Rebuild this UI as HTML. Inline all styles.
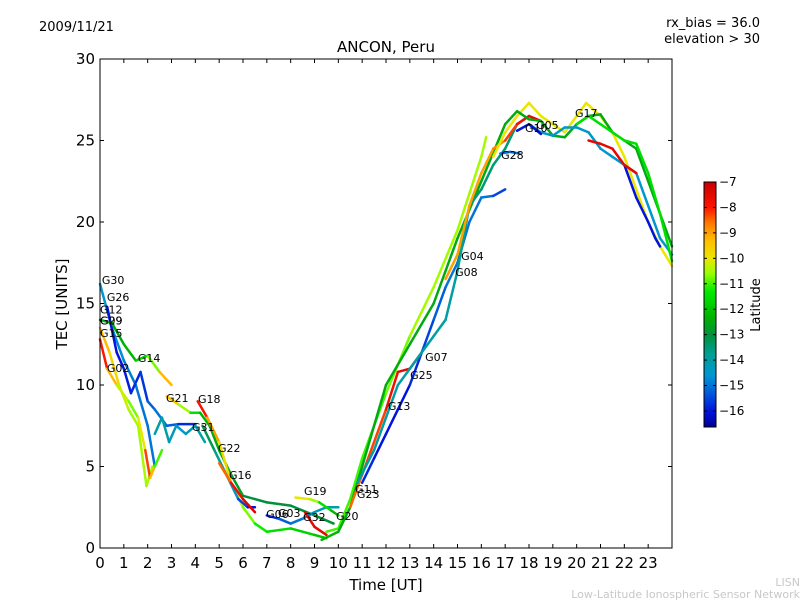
<!DOCTYPE html>
<html><head><meta charset="utf-8"><style>
body{margin:0;background:#fff;}
svg{display:block;font-family:"DejaVu Sans","Liberation Sans",sans-serif;}
</style></head><body>
<svg id="chart" width="800" height="600" viewBox="0 0 800 600">
<defs><linearGradient id="jet" x1="0" y1="1" x2="0" y2="0"></linearGradient></defs>
<text x="39" y="31" font-size="13">2009/11/21</text>
<text x="760" y="27" font-size="13" text-anchor="end">rx_bias = 36.0</text>
<text x="760" y="43" font-size="13" text-anchor="end">elevation &gt; 30</text>
<text x="386" y="52" font-size="15" text-anchor="middle">ANCON, Peru</text>
<text x="386" y="590" font-size="15" text-anchor="middle">Time [UT]</text>
<text x="67" y="304" font-size="15" text-anchor="middle" transform="rotate(-90 67 304)">TEC [UNITS]</text>
<text x="800" y="586" font-size="11" fill="#c8c8c8" text-anchor="end">LISN</text>
<text x="800" y="598" font-size="11" fill="#c8c8c8" text-anchor="end">Low-Latitude Ionospheric Sensor Network</text>
<g id="tracks"></g>
<g id="labels"></g>
<rect x="100" y="59" width="572" height="489" fill="none" stroke="#000" stroke-width="1"/>
<g id="axes"></g>
<rect x="704" y="182" width="12" height="245" fill="url(#jet)" stroke="#000" stroke-width="1"/>
<g id="cbticks"></g>
<text x="760" y="305" font-size="13" text-anchor="middle" transform="rotate(-90 760 305)">Latitude</text>
</svg>
<script>
const xTicks=[0,1,2,3,4,5,6,7,8,9,10,11,12,13,14,15,16,17,18,19,20,21,22,23];
const yTicks=[0,5,10,15,20,25,30];
const cbTicks=[-7,-8,-9,-10,-11,-12,-13,-14,-15,-16];
const trackT=[
[0,0.5,1,1.5,2,2.3],
[0.3,0.7,1.0,1.3,1.7,2.0,2.3,2.8,3.3,4.0],
[0,0.5,1,1.5,2,2.5,3],
[0,0.4,0.8,1.2,1.6,1.95,2.2],
[0,0.3,0.7,1.2,1.6,1.9,2.1,2.3,2.6],
[2.3,2.6,2.9,3.2,3.6,4.0,4.4],
[2.8,3.3,3.8,4.2,4.6,5,5.5,6,6.5,7,8,9,9.8],
[4.1,4.5,5,5.5,6,6.5,7,8,9,9.5],
[4.3,4.8,5.3,5.8,6.2,6.5],
[5,5.5,6,6.5],
[7,7.5,8,8.5,9,9.5,10],
[8.2,8.8,9.2,9.7,10],
[8.6,9,9.5],
[9.5,10,10.5,11,12,13,14,15,16,16.2],
[9.3,10,10.5,11,12,13,14,15,16,17,17.5],
[10.5,11,12,12.5,13,13.5],
[11,11.5,12,12.5,13,13.5,14,14.5,15,15.5,16,16.5,17],
[10.8,11.5,12,12.5,13,14,14.5,15,15.5,16,16.5,17,17.5,18],
[14.5,15,15.5,16,16.5,17,17.5,18,18.5],
[16.5,17,17.5,18,18.5,19,19.5,20,20.4,21,21.5,22,22.5,23,23.5,24],
[17.5,18,18.5,19,19.5,20,20.5,21,21.5,22,22.5,23,23.5,24],
[18,18.5,19,19.5,20,20.5,21,21.5,22,22.5,23,23.5,24],
[22,22.5,23,23.3,23.5],
[16.8,17.2,17.6],
[20,20.5,21,21.5,22,22.5,23,23.5,24],
[20.5,21,21.5,22,22.5],
[17.5,18,18.5]];
const trackV=[
[16.2,13.5,11.5,10,7.5,5],
[14.8,12,11,9.5,10.8,9,8.5,7.5,7.6,7.6],
[14,13.8,12.5,11.5,11.8,10.8,10],
[13.5,12,10,8.5,7.5,3.8,5],
[12.8,11,10,9,8,6,4.3,5,6],
[7,8,6.5,7.5,7,7.5,6.5],
[9.3,8.8,8.3,8.3,7.5,6,4.5,3.2,3,2.8,2.6,2,1.5],
[9,8,6.5,4,2.5,1.5,1,1.2,0.8,0.6],
[7.5,6,4.5,3,2.5,2.5],
[5.2,4,3,2.2],
[2,1.8,1.5,1.8,2.2,2.5,2.5],
[3.1,3.0,2.8,2.3,2],
[2.2,1.3,0.8],
[1,1.2,3,5.5,9.5,13,16,19.5,24,25.2],
[0.5,1,2.5,5,10,12.5,15,19,22.5,26,26.8],
[2.5,4.5,8.5,10.8,11,12],
[4,5.5,7,8.5,10,12,14,16,17.5,20,21.5,21.6,22],
[4,6,8,10,11,13,14,17,21,22,23.5,24.5,26,26.5],
[16.5,18,21,23,24.5,25,26,26.5,26.2],
[24,25.5,26.5,27.3,26.5,26,25.5,26.5,27.3,26.5,25.5,24,22,20,18.5,17.3],
[26.8,26.3,26.2,25.3,25.2,26,26.5,26.6,25.5,25,24.5,22.5,20.5,18.5],
[26,25.5,25.3,25.8,25.8,25.5,24.5,24,23.5,23,21,19,18],
[23.5,21.5,20,19,18.5],
[24.2,24.3,24.2],
[26,26.5,26,25.5,25,24.8,23,20.5,17.6],
[25,24.8,24.5,23.5,23],
[25.6,26,25.4]];
const trackLat=[
[-14.5,-14.6,-14.8,-15,-15,-15],
[-16,-16,-16,-15.8,-15.8,-15.5,-15,-15,-15.5,-16],
[-12.5,-12.5,-12.5,-12,-11.5,-10,-8.5],
[-9,-9.5,-10,-10.5,-10.5,-10.5,-10.5],
[-7.5,-8.5,-10,-10.5,-11,-9,-7.5,-11,-11],
[-14,-14,-14,-14.5,-14.5,-14,-14],
[-9,-10,-11,-12,-12.5,-12.5,-12.5,-13,-13,-13,-13,-13,-13],
[-7.3,-8.5,-9.5,-10,-10.5,-11,-11.5,-11.5,-12,-12],
[-13,-13.5,-14,-15,-16,-16],
[-9,-8,-7.5,-7.2],
[-16,-15.5,-15,-15,-14.5,-14,-14],
[-10,-10,-11,-12,-12.5],
[-7.5,-7.5,-7.5],
[-11,-11,-11,-11,-11,-10.5,-10.5,-10.5,-10.5,-10.5],
[-12,-12.5,-12.5,-12.5,-12.5,-12.5,-12.5,-12.5,-12.5,-12.5,-12.5],
[-8.5,-8.5,-8,-7.5,-7.5,-7.5],
[-15.5,-16,-16,-16,-16,-15.5,-15.5,-15,-15,-15,-15,-15,-16],
[-14,-14,-14,-14,-14,-14,-14,-14,-13.5,-13.5,-13.5,-13.5,-13.5,-13.5],
[-9,-9,-9,-9,-9,-8.5,-8,-7.5,-7.5],
[-10,-10,-10,-10,-10,-10,-10,-10,-10,-10,-10,-10,-10,-10,-10,-10],
[-12.5,-12.5,-12.5,-12.5,-12.5,-12.5,-12.5,-12.5,-12.5,-12.5,-12.5,-12.5,-12.5,-12.5],
[-14.5,-14.5,-14.5,-14.5,-14.5,-14.5,-14.5,-14.5,-14.5,-14.5,-14.5,-14.5,-14.5],
[-16,-16,-16,-16,-16],
[-15,-15,-15],
[-11.5,-11.5,-11.5,-11.5,-11.5,-11.5,-11.5,-11.5,-11.5],
[-7.5,-7.5,-7.5,-7.5,-7.5],
[-16,-16,-16]];
const labelNames=["G30","G26","G12","G29","G09","G15","G14","G02","G21","G18","G31","G22","G16","G19","G06","G03","G32","G20","G11","G23","G13","G25","G07","G08","G04","G28","G10","G05","G17"];
const labelT=[0.08,0.29,0,0,0,0,1.59,0.29,2.77,4.11,3.86,4.95,5.41,8.56,6.97,7.47,8.52,9.9,10.7,10.78,12.08,13.01,13.64,14.9,15.15,16.83,17.83,18.3,19.93];
const labelV=[16.2,15.15,14.4,13.7,13.7,12.95,11.4,10.8,8.96,8.9,7.18,5.89,4.23,3.25,1.84,1.9,1.66,1.72,3.37,3.07,8.47,10.37,11.47,16.69,17.67,23.87,25.52,25.7,26.44];

const NS="http://www.w3.org/2000/svg";
const X=t=>100+t*(572/24);
const Y=v=>548-v*(489/30);
const LATMIN=-16.63,LATMAX=-7;
const CY=l=>182+(LATMAX-l)*(245/(LATMAX-LATMIN));
const CM=[[-16.63,[0,0,150]],[-16,[0,20,220]],[-15.3,[0,90,220]],[-14.6,[0,150,210]],[-13.8,[0,160,150]],[-13,[0,145,60]],[-12.3,[0,180,0]],[-11.3,[0,235,0]],[-10.6,[150,255,0]],[-10,[235,230,0]],[-9.3,[255,190,0]],[-8.6,[255,120,0]],[-8,[255,20,0]],[-7,[200,0,0]]];
function jet(l){l=Math.max(LATMIN,Math.min(LATMAX,l));
 for(let i=0;i<CM.length-1;i++){const a=CM[i],b=CM[i+1];if(l<=b[0]){const f=(l-a[0])/(b[0]-a[0]);
  const c=a[1].map((v,k)=>Math.round(v+(b[1][k]-v)*f));return `rgb(${c})`;}}
 return 'rgb(200,0,0)';}
const grad=document.getElementById('jet');
CM.forEach(s=>{const st=document.createElementNS(NS,'stop');st.setAttribute('offset',(s[0]-LATMIN)/(LATMAX-LATMIN));st.setAttribute('stop-color',`rgb(${s[1]})`);grad.appendChild(st);});
function mk(tag,attrs,parent){const e=document.createElementNS(NS,tag);for(const k in attrs)e.setAttribute(k,attrs[k]);parent.appendChild(e);return e;}
const gT=document.getElementById('tracks');
trackT.forEach((ts,i)=>{
 const g=mk('g',{},gT);
 
 
 for(let j=0;j<ts.length-1;j++){
  const s=mk('line',{x1:X(ts[j]),y1:Y(trackV[i][j]),x2:X(ts[j+1]),y2:Y(trackV[i][j+1]),stroke:jet((trackLat[i][j]+trackLat[i][j+1])/2),'stroke-width':2.5,'stroke-linecap':'round'},g);
  
  
 }
});
const gL=document.getElementById('labels');
labelNames.forEach((n,i)=>{
 const t=mk('text',{x:X(labelT[i]),y:Y(labelV[i]),'font-size':11},gL);
 t.textContent=n;
 
 
});
const gA=document.getElementById('axes');
xTicks.forEach(v=>{
 const x=X(v);
 mk('line',{x1:x,y1:548,x2:x,y2:544,stroke:'#000'},gA);
 mk('line',{x1:x,y1:59,x2:x,y2:63,stroke:'#000'},gA);
 const t=mk('text',{x:x,y:568,'font-size':15,'text-anchor':'middle'},gA);
 t.textContent=v;
 
 
});
yTicks.forEach(v=>{
 const y=Y(v);
 mk('line',{x1:100,y1:y,x2:104,y2:y,stroke:'#000'},gA);
 mk('line',{x1:672,y1:y,x2:668,y2:y,stroke:'#000'},gA);
 const t=mk('text',{x:95,y:y+5,'font-size':15,'text-anchor':'end'},gA);
 t.textContent=v;
 
 
});
const gC=document.getElementById('cbticks');
cbTicks.forEach(v=>{
 const y=CY(v);
 mk('line',{x1:704,y1:y,x2:707,y2:y,stroke:'#000'},gC);
 mk('line',{x1:716,y1:y,x2:713,y2:y,stroke:'#000'},gC);
 const t=mk('text',{x:719,y:y+4,'font-size':12},gC);
 t.textContent='\u2212'+Math.abs(v);
 
 
});
</script>
</body></html>
